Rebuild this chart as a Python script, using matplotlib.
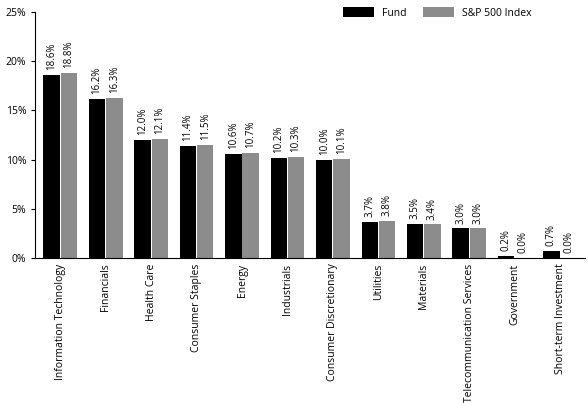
import numpy as np
import matplotlib.pyplot as plt

categories = ['Information Technology', 'Financials', 'Health Care', 'Consumer Staples',
              'Energy', 'Industrials', 'Consumer Discretionary', 'Utilities', 'Materials',
              'Telecommunication Services', 'Government', 'Short-term Investment']
fund = [18.6, 16.2, 12.0, 11.4, 10.6, 10.2, 10.0, 3.7, 3.5, 3.0, 0.2, 0.7]
index = [18.8, 16.3, 12.1, 11.5, 10.7, 10.3, 10.1, 3.8, 3.4, 3.0, 0.0, 0.0]

plt.rcParams['font.family'] = ['Open Sans', 'DejaVu Sans']
fig = plt.figure(figsize=(5.88, 4.03), dpi=100)
ax = fig.add_axes([0.06, 0.36, 0.935, 0.61])

x = np.arange(len(categories))
w = 0.36
b1 = ax.bar(x - w / 2 - 0.01, fund, width=w, color='black', label='Fund')
b2 = ax.bar(x + w / 2 + 0.01, index, width=w, color='#8c8c8c', label='S&P 500 Index')

for bars, vals in ((b1, fund), (b2, index)):
    for bar, v in zip(bars, vals):
        ax.text(bar.get_x() + bar.get_width() / 2, v + 0.5, f'{v:.1f}%',
                rotation=90, ha='center', va='bottom', fontsize=7)

ax.set_ylim(0, 25)
ax.set_yticks(range(0, 26, 5))
ax.set_yticklabels([f'{t}%' for t in range(0, 26, 5)], fontsize=7.5)
ax.set_xlim(-0.55, len(categories) - 0.45)
ax.set_xticks(x)
ax.set_xticklabels(categories, rotation=90, fontsize=7.5)
ax.tick_params(axis='x', length=0, pad=4)
ax.tick_params(axis='y', length=3)
ax.spines['top'].set_visible(False)
ax.spines['right'].set_visible(False)

ax.legend(loc='upper right', bbox_to_anchor=(0.92, 1.06), ncol=2, frameon=False,
          fontsize=7.5, handlelength=3, handleheight=1.2, columnspacing=1.5)

fig.savefig('out.png', dpi=100)
